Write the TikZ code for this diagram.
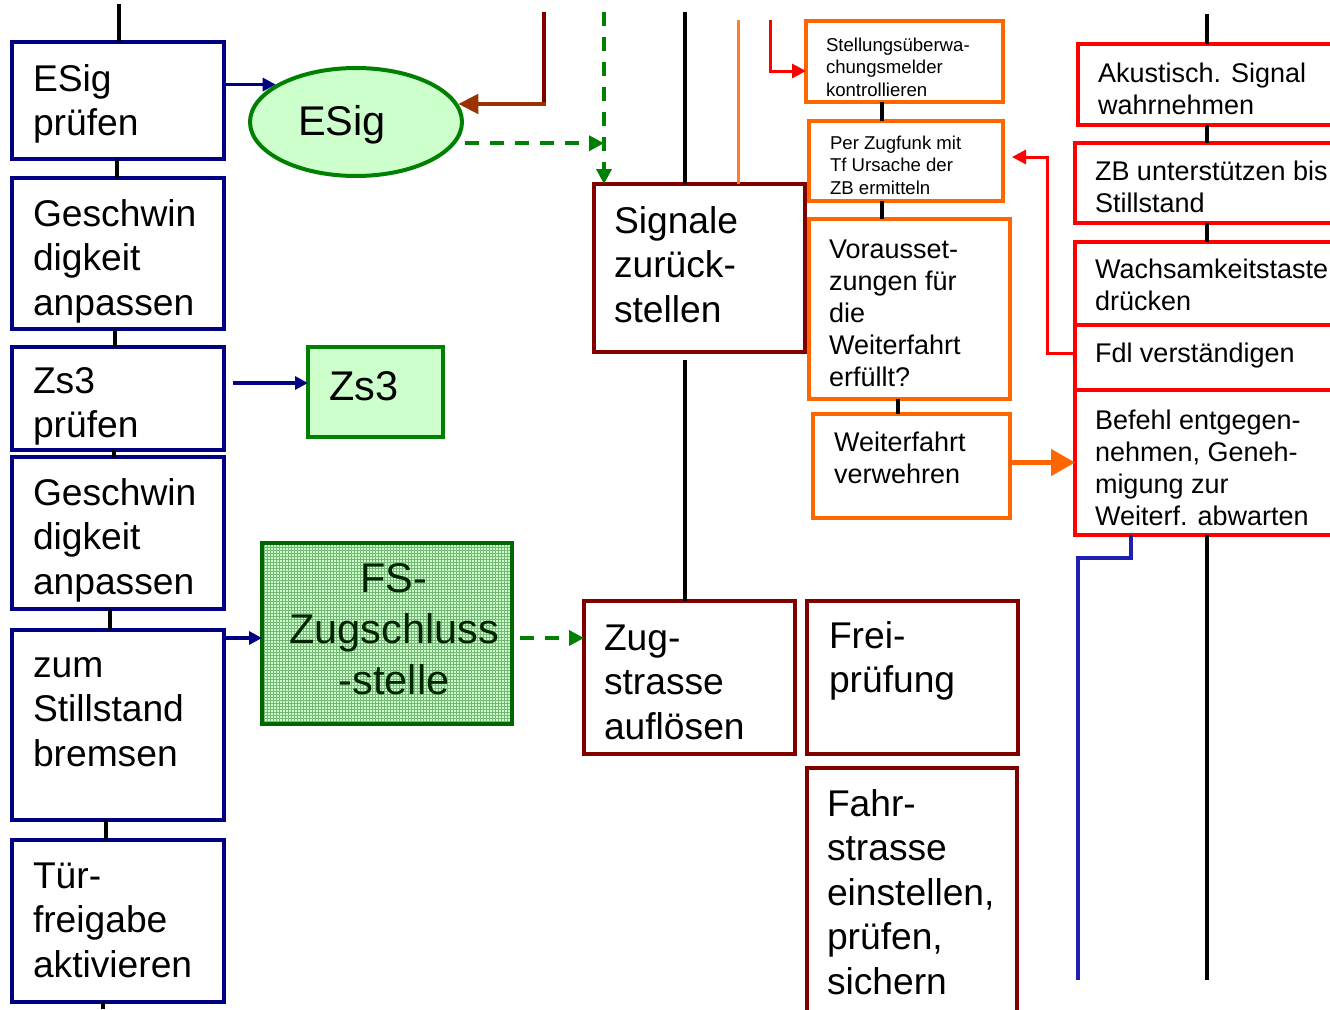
\documentclass[tikz,border=0pt]{standalone}
\usepackage{fontspec}
\setmainfont{Liberation Sans}
\usetikzlibrary{arrows.meta,patterns,shapes.geometric}
% multi-line labels whose base is the first line's baseline
\newcommand\ml[1]{\begin{tabular}[t]{@{}l@{}}#1\end{tabular}}
\newcommand\mc[1]{\begin{tabular}[t]{@{}c@{}}#1\end{tabular}}
\definecolor{cNavy}{HTML}{000080}
\definecolor{cBrick}{HTML}{800000}
\definecolor{cOrange}{HTML}{FF6600}
\definecolor{cRed}{HTML}{FF0000}
\definecolor{cGreen}{HTML}{008000}
\definecolor{cDkGreen}{HTML}{006600}
\definecolor{cLight}{HTML}{CCFFCC}
\definecolor{cRust}{HTML}{993300}
\definecolor{cBlue}{HTML}{2020B0}
\begin{document}
\begin{tikzpicture}[x=1pt,y=-1pt,
  box/.style={draw, rectangle, inner sep=0pt, outer sep=0pt},
  navybox/.style={box, draw=cNavy, line width=3.2pt},
  brickbox/.style={box, draw=cBrick, line width=3.8pt},
  orangebox/.style={box, draw=cOrange, line width=3.6pt},
  redbox/.style={box, draw=cRed, line width=3.2pt},
  txtbase/.style={inner sep=0pt, outer sep=0pt, anchor=base west, text=black},
  bigtxt/.style={txtbase, font=\fontsize{37.2}{44.5}\selectfont},
  medtxt/.style={txtbase, font=\fontsize{27}{32}\selectfont},
  smalltxt/.style={txtbase, font=\fontsize{18.6}{22.5}\selectfont},
  hugetxt/.style={txtbase, font=\fontsize{41.5}{51}\selectfont},
  link/.style={line width=4.5pt, black},
  thinlink/.style={line width=3.5pt, black},
  navyarrow/.style={cNavy, line width=3.5pt, -{Triangle[length=13pt,width=13pt]}},
  greendash/.style={cGreen, line width=3.5pt, dash pattern=on 14pt off 11pt},
  greenarrow/.style={greendash, -{Triangle[length=15pt,width=15pt]}},
  redarrow/.style={cRed, line width=3pt, -{Triangle[length=14pt,width=14pt]}},
]
\useasboundingbox (0,0) rectangle (1330,1009);
\clip (0,0) rectangle (1330,1009);
\fill[white] (0,0) rectangle (1330,1009);

% ---------- left column: train driver actions ----------
\node[navybox, minimum width=212pt, minimum height=117pt] (b1) at (118,100.5) {};
\node[navybox, minimum width=212pt, minimum height=151pt] (b2) at (118,253.5) {};
\node[navybox, minimum width=212pt, minimum height=103pt] (b3) at (118,398.5) {};
\node[navybox, minimum width=212pt, minimum height=152pt] (b4) at (118,533) {};
\node[navybox, minimum width=212pt, minimum height=190pt] (b5) at (118,725) {};
\node[navybox, minimum width=212pt, minimum height=162pt] (b6) at (118,921) {};

\node[bigtxt] (t1) at (33,91) {\ml{ESig\\prüfen}};
\node[bigtxt] (t2) at (33,226) {\ml{Geschwin\\digkeit\\anpassen}};
\node[bigtxt] (t3) at (33,393) {\ml{Zs3\\prüfen}};
\node[bigtxt] (t4) at (33,505) {\ml{Geschwin\\digkeit\\anpassen}};
\node[bigtxt] (t5) at (33,677) {\ml{zum\\Stillstand\\bremsen}};
\node[bigtxt] (t6) at (33,888) {\ml{Tür-\\freigabe\\aktivieren}};

\coordinate (ltop) at (119,4);
\coordinate (lbot) at (103,1009);
\draw[thinlink] (ltop) -- (ltop |- b1.north);
\draw[thinlink] ([xshift=-1pt]b1.south) -- ([xshift=-1pt]b2.north);
\draw[thinlink] ([xshift=-3pt]b2.south) -- ([xshift=-3pt]b3.north);
\draw[thinlink] ([xshift=-4pt]b3.south) -- ([xshift=-4pt]b4.north);
\draw[thinlink] ([xshift=-8pt]b4.south) -- ([xshift=-8pt]b5.north);
\draw[thinlink] ([xshift=-12pt]b5.south) -- ([xshift=-12pt]b6.north);
\draw[thinlink] ([xshift=-15pt]b6.south) -- (lbot);

% ---------- signals seen by the driver ----------
\node[ellipse, draw=cGreen, fill=cLight, line width=4pt, minimum width=212pt,
      minimum height=108pt, inner sep=0pt] (esig) at (356,122) {};
\node[hugetxt] (tesig) at (298,135) {ESig};

\node[box, draw=cGreen, fill=cLight, line width=3.5pt, minimum width=135pt,
      minimum height=90pt] (zs3box) at (375.5,392) {};
\node[hugetxt] (tzs3) at (329,400) {Zs3};

\node[box, draw=cDkGreen, line width=3.8pt, preaction={fill=cLight},
      pattern=grid, pattern color=cGreen!55,
      minimum width=250pt, minimum height=181pt] (fsbox) at (387,633.5) {};
\node[hugetxt, anchor=base, text={rgb,255:red,0;green,35;blue,0}] (tfs) at (394,592)
      {\mc{FS-\\Zugschluss\\-stelle}};

\draw[navyarrow] (b1.east |- esig.155) -- (esig.155);
\coordinate (zs3src) at (233,383);
\draw[navyarrow] (zs3src) -- (zs3src -| zs3box.west);
\draw[navyarrow] ([yshift=-4.5pt]b5.east |- fsbox.west) -- ([yshift=-4.5pt]fsbox.west);

% ---------- dispatcher column ----------
\node[brickbox, minimum width=211pt, minimum height=168pt] (sig) at (699.5,268) {};
\node[bigtxt] (tsig) at (614,233) {\ml{Signale\\zurück-\\stellen}};
\node[brickbox, minimum width=211pt, minimum height=153pt] (zug) at (689.5,677.5) {};
\node[bigtxt] (tzug) at (604,650) {\ml{Zug-\\strasse\\auflösen}};
\node[brickbox, minimum width=211pt, minimum height=153pt] (frei) at (912.5,677.5) {};
\node[bigtxt] (tfrei) at (829,648) {\ml{Frei-\\prüfung}};
\node[brickbox, minimum width=210pt, minimum height=262pt] (fahr) at (912,899) {};
\node[bigtxt] (tfahr) at (827,816) {\ml{Fahr-\\strasse\\einstellen,\\prüfen,\\sichern}};

\coordinate (rusttop) at (544,12);
\draw[cBrick, line width=4pt] (rusttop) -- (rusttop |- esig.10);
\draw[cRust, line width=4.5pt, -{Triangle[length=20pt,width=19pt]}] ([xshift=2pt]rusttop |- esig.10) -- (esig.10);

\coordinate (gtop) at (604,12);
\draw[greenarrow] (gtop) -- (gtop |- sig.north);
\draw[greenarrow, shorten <=9pt] (esig.-12.8) -- (esig.-12.8 -| gtop);
\draw[greenarrow] ([xshift=8pt,yshift=-4.5pt]fsbox.east) -- ([yshift=-4.5pt]zug.west |- fsbox.east);

\coordinate (btop) at (685,12);
\coordinate (bmid) at (685,360);
\draw[link] (btop) -- (btop |- sig.north);
\draw[link] (bmid) -- (bmid |- zug.north);

\coordinate (otop) at (738,20);
\draw[cOrange!85, line width=3pt] (otop) -- (otop |- sig.north);

% ---------- orange group ----------
\node[orangebox, minimum width=197pt, minimum height=81pt] (o1) at (904.5,61.5) {};
\node[smalltxt] (to1) at (826,51) {\ml{Stellungsüberwa-\\chungsmelder\\kontrollieren}};
\node[orangebox, minimum width=194pt, minimum height=80pt] (o2) at (906,161) {};
\node[smalltxt] (to2) at (830,149) {\ml{Per Zugfunk mit\\Tf Ursache der\\ZB ermitteln}};
\node[orangebox, minimum width=201pt, minimum height=180pt] (o3) at (909.5,309) {};
\node[medtxt] (to3) at (829,258) {\ml{Vorausset-\\zungen für\\die\\Weiterfahrt\\erfüllt?}};
\node[orangebox, minimum width=197pt, minimum height=104pt] (o4) at (911.5,466) {};
\node[medtxt] (to4) at (834,451) {\ml{Weiterfahrt\\verwehren}};

\coordinate (rtop) at (770,20);
\draw[redarrow] (rtop) |- ([yshift=-9.5pt]o1.west);
\coordinate (ox1) at (882,0);
\coordinate (ox2) at (898,0);
\draw[link] (o1.south -| ox1) -- (o2.north -| ox1);
\draw[link] (o2.south -| ox1) -- (o3.north -| ox1);
\draw[link] (o3.south -| ox2) -- (o4.north -| ox2);

% ---------- red group ----------
\node[redbox, minimum width=267pt, minimum height=81pt] (r1) at (1211.5,84.5) {};
\node[medtxt] (tr1) at (1098,82) {\ml{Akustisch. Signal\\wahrnehmen}};
\node[redbox, minimum width=270pt, minimum height=80pt] (r2) at (1210,183) {};
\node[medtxt] (tr2) at (1095,180) {\ml{ZB unterstützen bis\\Stillstand}};
\node[redbox, minimum width=270pt, minimum height=83pt] (r3) at (1210,283.5) {};
\node[medtxt] (tr3) at (1095,278) {\ml{Wachsamkeitstaste\\drücken}};
\node[redbox, minimum width=270pt, minimum height=65pt] (r4) at (1210,357.5) {};
\node[medtxt] (tr4) at (1095,362) {Fdl verständigen};
\node[redbox, minimum width=270pt, minimum height=145pt] (r5) at (1210,462.5) {};
\node[medtxt] (tr5) at (1095,429) {\ml{Befehl entgegen-\\nehmen, Geneh-\\migung zur\\Weiterf. abwarten}};

\draw[redarrow] ([yshift=4.5pt]r4.west) -- ++(-28,0) |- ([xshift=9pt,yshift=4pt]o2.east);
\draw[cOrange, line width=4.5pt, -{Triangle[length=24pt,width=26pt]}] (o4.east |- r5.west) -- (r5.west);

\coordinate (rx) at (1207,14);
\coordinate (rbot) at (1207,980);
\draw[link] (rx) -- (rx |- r1.north);
\draw[link] (r1.south -| rx) -- (r2.north -| rx);
\draw[link] (r2.south -| rx) -- (r3.north -| rx);
\draw[link] (r5.south -| rx) -- (rbot);

\coordinate (bx) at (1131,0);
\coordinate (bbot) at (1078,980);
\draw[cBlue, line width=3.2pt] (r5.south -| bx) -- (1131,558) -- (1078,558) -- (bbot);
\end{tikzpicture}
\end{document}
